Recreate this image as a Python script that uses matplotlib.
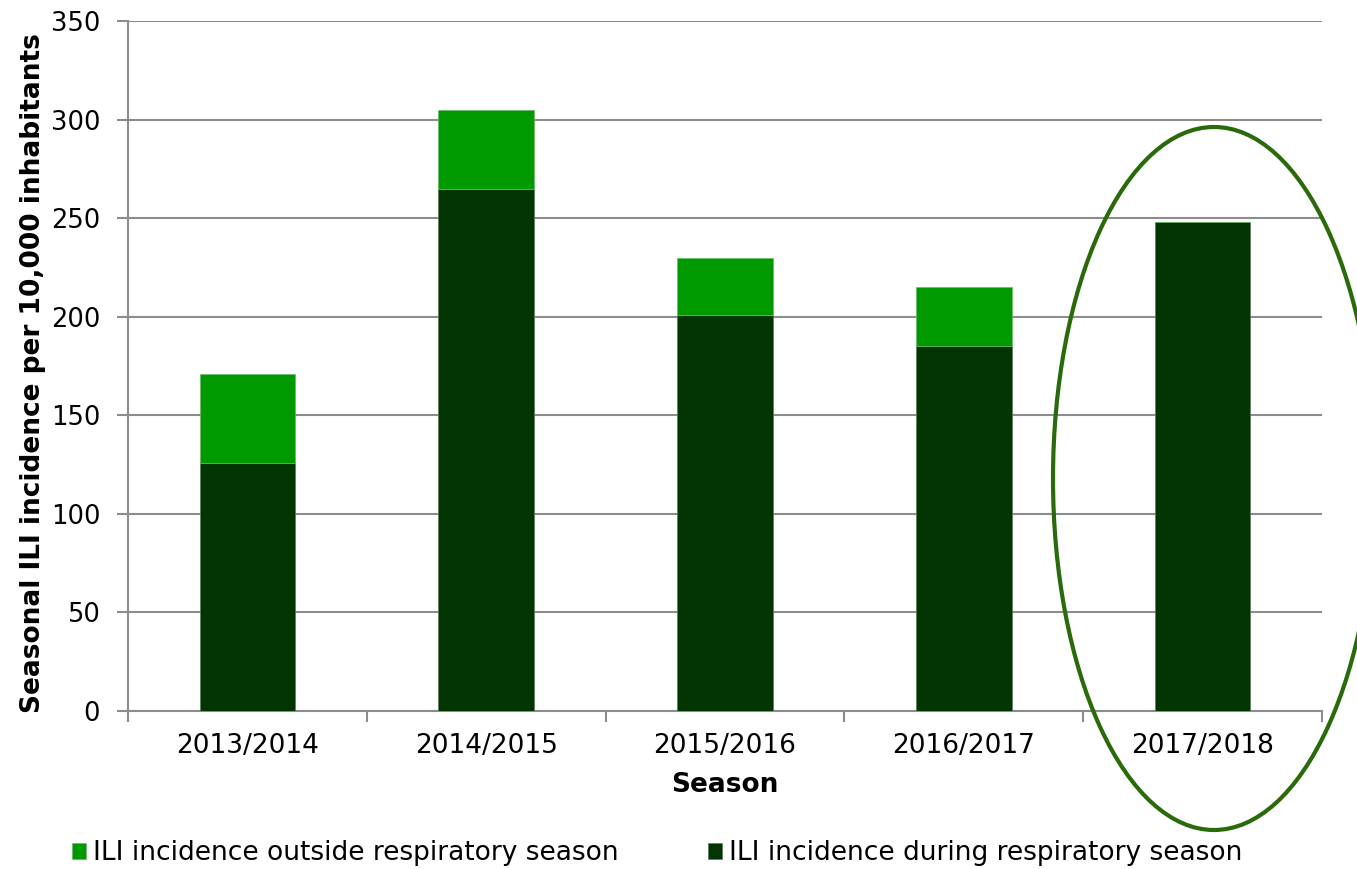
import matplotlib.pyplot as plt
from matplotlib.patches import Ellipse

seasons = ['2013/2014', '2014/2015', '2015/2016', '2016/2017', '2017/2018']
during = [126, 265, 201, 185, 248]
outside = [45, 40, 29, 30, 0]

dark = '#033503'
light = '#009900'
gridc = '#8c8c8c'

fig = plt.figure(figsize=(13.57, 8.69), dpi=100)
ax = fig.add_axes([128/1357, 1-711/869, 1194/1357, 690/869])

x = range(len(seasons))
ax.bar(x, during, width=0.4, color=dark, edgecolor='#5a7a5a', linewidth=0.5, zorder=3,
       label='ILI incidence during respiratory season')
ax.bar(x, outside, width=0.4, bottom=during, color=light, edgecolor='#6aba6a', linewidth=0.5,
       zorder=3, label='ILI incidence outside respiratory season')

ax.set_xlim(-0.5, len(seasons) - 0.5)
ax.set_ylim(0, 350)
ax.set_yticks(range(0, 351, 50))
ax.yaxis.grid(True, color=gridc, linewidth=1.5)
ax.set_axisbelow(True)

ax.set_xticks(list(x))
ax.set_xticklabels(seasons, fontsize=19)
ax.set_xticks([i - 0.5 for i in range(len(seasons) + 1)], minor=True)
ax.tick_params(axis='x', which='major', length=0, pad=16)
ax.tick_params(axis='x', which='minor', length=8, width=1.5, color=gridc)
ax.tick_params(axis='y', labelsize=18.5, length=8, width=1.5, color=gridc, pad=12)

for s in ['top', 'right']:
    ax.spines[s].set_visible(False)
for s in ['left', 'bottom']:
    ax.spines[s].set_color(gridc)
    ax.spines[s].set_linewidth(1.5)

ax.set_xlabel('Season', fontsize=19, fontweight='bold')
ax.xaxis.set_label_coords(0.5, -(772-711)/690)
ax.set_ylabel('Seasonal ILI incidence per 10,000 inhabitants', fontsize=19,
              fontweight='bold')
ax.yaxis.set_label_coords(-(128-46)/1194, 0.49)

h, l = ax.get_legend_handles_labels()
fig.legend(h[::-1], l[::-1], loc='center', bbox_to_anchor=(657/1357, 1-853/869), ncol=2,
           frameon=False, fontsize=19, handlelength=0.55, handleheight=0.55,
           handletextpad=0.25, columnspacing=3.4)

# highlight circle around the latest season
ell = Ellipse((1214/1357, 1-478.5/869), 322/1357, 703/869, transform=fig.transFigure,
              fill=False, edgecolor='#2a6a0a', linewidth=3, zorder=5)
fig.patches.append(ell)

fig.savefig('out.png', dpi=100)
